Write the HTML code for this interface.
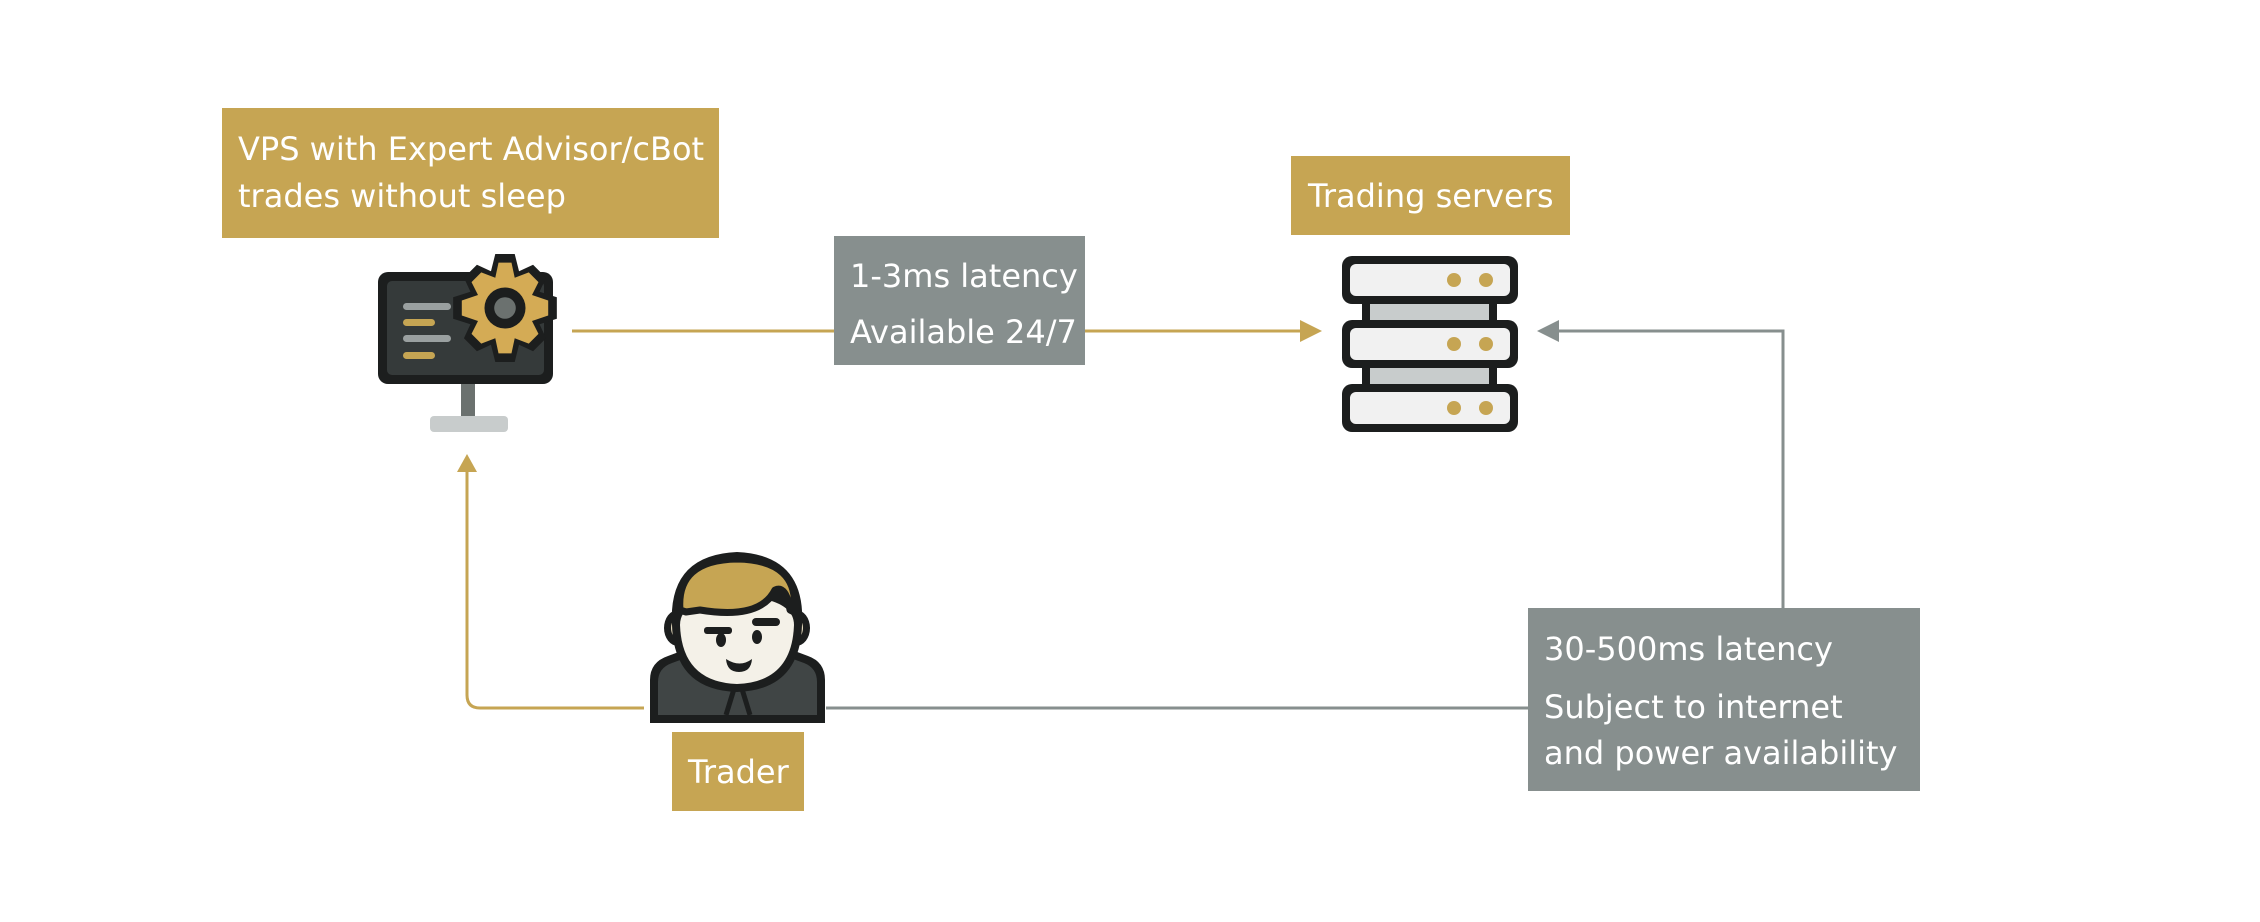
<!DOCTYPE html>
<html><head><meta charset="utf-8"><style>
html,body{margin:0;padding:0;background:#fff;}
svg{display:block;}
text{font-family:"DejaVu Sans","Liberation Sans",sans-serif;fill:#fff;}
</style></head><body>
<svg width="2260" height="922" viewBox="0 0 2260 922" xmlns="http://www.w3.org/2000/svg">
<line x1="572" y1="331" x2="1310" y2="331" stroke="#c6a553" stroke-width="3"/>
<polygon points="1322,331 1300,320 1300,342" fill="#c6a553"/>
<path d="M644 708 H480 Q467 708 467 695 V468" fill="none" stroke="#c6a553" stroke-width="3"/>
<polygon points="467,454 457,472 477,472" fill="#c6a553"/>
<path d="M826 708 H1528" fill="none" stroke="#878f8e" stroke-width="3"/>
<path d="M1783 608 V331 H1552" fill="none" stroke="#878f8e" stroke-width="3"/>
<polygon points="1537,331 1559,320 1559,342" fill="#878f8e"/>

<rect x="222" y="108" width="497" height="130" fill="#c6a553"/>
<text x="238" y="160" font-size="32">VPS with Expert Advisor/cBot</text>
<text x="238" y="207" font-size="32">trades without sleep</text>

<rect x="1291" y="156" width="279" height="79" fill="#c6a553"/>
<text x="1308" y="207" font-size="32">Trading servers</text>

<rect x="834" y="236" width="251" height="129" fill="#878f8e"/>
<text x="850" y="287" font-size="32">1-3ms latency</text>
<text x="850" y="343" font-size="32">Available 24/7</text>

<rect x="1528" y="608" width="392" height="183" fill="#878f8e"/>
<text x="1544" y="660" font-size="32">30-500ms latency</text>
<text x="1544" y="718" font-size="32">Subject to internet</text>
<text x="1544" y="764" font-size="32">and power availability</text>

<rect x="672" y="732" width="132" height="79" fill="#c6a553"/>
<text x="688" y="783" font-size="32">Trader</text>

<!-- monitor icon -->
<rect x="461" y="383" width="14" height="36" fill="#6b716f"/>
<rect x="430" y="416" width="78" height="16" rx="4" fill="#c8cccc"/>
<rect x="378" y="272" width="175" height="112" rx="10" fill="#1c1e1e"/>
<rect x="387" y="281" width="157" height="94" rx="5" fill="#353a3a"/>
<rect x="403" y="303" width="48" height="7" rx="3.5" fill="#9aa0a0"/>
<rect x="403" y="319" width="32" height="7" rx="3.5" fill="#c6a553"/>
<rect x="403" y="335" width="48" height="7" rx="3.5" fill="#9aa0a0"/>
<rect x="403" y="352" width="32" height="7" rx="3.5" fill="#c6a553"/>
<g transform="translate(505,308) scale(1.08)">
<path d="M-9,-50 L9,-50 L13,-34 L26,-40 L38,-28 L32,-15 L48,-10 L48,10 L32,15 L38,28 L26,40 L13,34 L9,50 L-9,50 L-13,34 L-26,40 L-38,28 L-32,15 L-48,10 L-48,-10 L-32,-15 L-38,-28 L-26,-40 L-13,-34 Z" fill="#1c1e1e"/>
<path d="M-6,-42 L6,-42 L9,-28 L22,-33 L31,-24 L25,-12 L40,-7 L40,7 L25,12 L31,24 L22,33 L9,28 L6,42 L-6,42 L-9,28 L-22,33 L-31,24 L-25,12 L-40,7 L-40,-7 L-25,-12 L-31,-24 L-22,-33 L-9,-28 Z" fill="#d4ab55"/>
<circle r="19" fill="#1c1e1e"/><circle r="10" fill="#6b716f"/>
</g>

<!-- server icon -->
<g>
<rect x="1362" y="296" width="135" height="30" fill="#1c1e1e"/>
<rect x="1370" y="300" width="119" height="22" fill="#c8cccc"/>
<rect x="1362" y="360" width="135" height="30" fill="#1c1e1e"/>
<rect x="1370" y="364" width="119" height="22" fill="#c8cccc"/>
<rect x="1342" y="256" width="176" height="48" rx="10" fill="#1c1e1e"/>
<rect x="1350" y="264" width="160" height="32" rx="6" fill="#f1f1f1"/>
<circle cx="1454" cy="280" r="7" fill="#c6a553"/><circle cx="1486" cy="280" r="7" fill="#c6a553"/>
<rect x="1342" y="320" width="176" height="48" rx="10" fill="#1c1e1e"/>
<rect x="1350" y="328" width="160" height="32" rx="6" fill="#f1f1f1"/>
<circle cx="1454" cy="344" r="7" fill="#c6a553"/><circle cx="1486" cy="344" r="7" fill="#c6a553"/>
<rect x="1342" y="384" width="176" height="48" rx="10" fill="#1c1e1e"/>
<rect x="1350" y="392" width="160" height="32" rx="6" fill="#f1f1f1"/>
<circle cx="1454" cy="408" r="7" fill="#c6a553"/><circle cx="1486" cy="408" r="7" fill="#c6a553"/>
</g>

<!-- trader icon -->
<g>
<path d="M650,723 V680 Q650,662 668,656 L700,644 H776 L808,656 Q825,662 825,680 V723 Z" fill="#1c1e1e"/>
<path d="M658,715 V682 Q658,668 672,663 L702,652 H774 L804,663 Q817,668 817,682 V715 Z" fill="#404545"/>
<path d="M712,652 L738,676 L726,715 M764,652 L738,676 L750,715" fill="none" stroke="#1c1e1e" stroke-width="5"/>
<ellipse cx="678" cy="628" rx="14" ry="18" fill="#1c1e1e"/>
<ellipse cx="796" cy="628" rx="14" ry="18" fill="#1c1e1e"/>
<ellipse cx="679" cy="628" rx="8" ry="11" fill="#e8ddc0"/>
<ellipse cx="795" cy="628" rx="8" ry="11" fill="#e8ddc0"/>
<path d="M672,625 Q668,555 737,552 Q806,555 802,625 Q800,690 737,692 Q674,690 672,625 Z" fill="#1c1e1e"/>
<path d="M680,625 Q680,598 737,596 Q794,598 794,625 Q792,682 737,684 Q682,682 680,625 Z" fill="#f4f1e8"/>
<path d="M680,610 Q676,560 737,559 Q800,560 794,612 L790,610 Q786,585 775,590 Q760,620 700,610 L686,612 Z" fill="#c6a553" stroke="#1c1e1e" stroke-width="7" stroke-linejoin="round"/>
<rect x="704" y="627" width="28" height="7" rx="3" fill="#1c1e1e"/>
<rect x="752" y="618" width="28" height="8" rx="4" fill="#1c1e1e"/>
<ellipse cx="721" cy="640" rx="5" ry="7" fill="#1c1e1e"/>
<ellipse cx="757" cy="637" rx="5" ry="7" fill="#1c1e1e"/>
<path d="M726,659 Q740,668 752,659 Q751,672 739,672 Q727,672 726,659 Z" fill="#1c1e1e"/>
</g>
</svg>
</body></html>
